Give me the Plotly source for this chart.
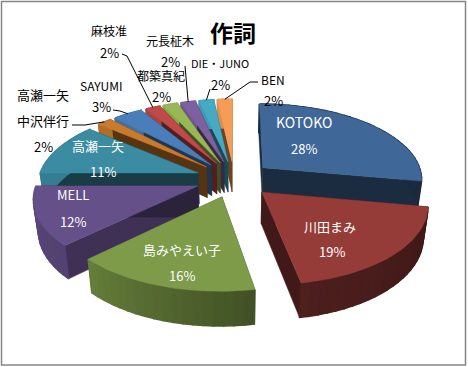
import math
import numpy as np
import plotly.graph_objects as go

TITLE = "作詞"
names = ["KOTOKO", "川田まみ", "島みやえい子", "MELL", "高瀬一矢", "中沢伴行", "SAYUMI",
         "麻枝准", "都築真紀", "元長柾木", "DIE・JUNO", "BEN"]
percent = [27.9, 19.2, 15.7, 12.2, 11.1, 1.74, 3.48, 1.74, 1.74, 1.74, 1.74, 1.74]
colors = ["#3F6797", "#953C39", "#7D9B48", "#65508A", "#3B8CA3", "#C97A2D",
          "#4A7EBB", "#BE4B48", "#98B855", "#7D60A0", "#46AAC5", "#F59D56"]

# projection of the exploded 3-D pie
CX, CY = 234.0, 179.0
RX, RY = 160.0, 75.6
PERSP = 7.1
EXPLODE = 0.24
DEPTH = 31.0
BOTTOM_SHRINK = 0.975
W, H = 468, 367


def project(x, y, bottom=False):
    s = PERSP / (PERSP - y)
    if bottom:
        return (CX + s * BOTTOM_SHRINK * RX * x,
                CY + s * BOTTOM_SHRINK * RY * y + s * DEPTH)
    return CX + s * RX * x, CY + s * RY * y


def rim(theta, ox, oy, bottom=False):
    return project(ox + math.sin(theta), oy - math.cos(theta), bottom)


def shade(color, f):
    r, g, b = (int(color[i:i + 2], 16) for i in (1, 3, 5))
    return f"rgb({int(r * f)},{int(g * f)},{int(b * f)})"


def poly(fig, pts, color, lw=0.5):
    fig.add_trace(go.Scatter(x=[p[0] for p in pts] + [pts[0][0]],
                             y=[p[1] for p in pts] + [pts[0][1]],
                             mode="lines", fill="toself", fillcolor=color,
                             line=dict(color=color, width=lw),
                             hoverinfo="skip", showlegend=False))


total = sum(percent)
slices = []
start = 0.0
for name, v, c in zip(names, percent, colors):
    span = 2 * math.pi * v / total
    mid = start + span / 2
    slices.append(dict(name=name, a=start, b=start + span, mid=mid, color=c,
                       ox=EXPLODE * math.sin(mid), oy=-EXPLODE * math.cos(mid)))
    start += span

fig = go.Figure()
for sl in sorted(slices, key=lambda d: d["oy"]):
    a, b, ox, oy, c = sl["a"], sl["b"], sl["ox"], sl["oy"], sl["color"]
    # radial walls
    for edge in (a, b):
        deg = math.degrees(edge) % 360
        f = 0.62 if 200 < deg < 260 else 0.43
        poly(fig, [project(ox, oy), rim(edge, ox, oy), rim(edge, ox, oy, True),
                   project(ox, oy, True)], shade(c, f))
    # outer wall, shaded along the arc
    n = max(3, int(math.degrees(b - a) / 3))
    ts = np.linspace(a, b, n + 1)
    for t0, t1 in zip(ts[:-1], ts[1:]):
        deg = math.degrees((t0 + t1) / 2)
        f = float(np.interp(deg, [100, 169, 227, 270], [0.42, 0.52, 0.82, 0.9]))
        poly(fig, [rim(t0, ox, oy), rim(t1, ox, oy), rim(t1, ox, oy, True),
                   rim(t0, ox, oy, True)], shade(c, f), lw=1.5)
    # top face
    arc = np.linspace(a, b, n * 2 + 1)
    poly(fig, [project(ox, oy)] + [rim(t, ox, oy) for t in arc], c)

# leader lines: label-side knee points, ending on the middle of the slice's rim
leaders = {
    "中沢伴行": [(72, 125), (85, 125)],
    "SAYUMI": [(113, 110), (120, 111)],
    "麻枝准": [(122, 54), (127, 56)],
    "元長柾木": [(185, 66)],
    "DIE・JUNO": [(210, 89)],
    "BEN": [(258, 82), (250, 82)],
}
for sl in slices:
    if sl["name"] in leaders:
        pts = leaders[sl["name"]] + [rim(sl["mid"], sl["ox"], sl["oy"])]
        fig.add_trace(go.Scatter(x=[p[0] for p in pts], y=[p[1] for p in pts], mode="lines",
                                 line=dict(color="#000000", width=1),
                                 hoverinfo="skip", showlegend=False))

# label anchor: name position, percent position, colour, name size
label_pos = {
    "KOTOKO": (304, 122, 304, 148, "white", 14),
    "川田まみ": (330, 226, 332, 251, "white", 13),
    "島みやえい子": (182, 249, 182, 275, "white", 13),
    "MELL": (73, 194, 73, 221, "white", 13),
    "高瀬一矢": (98, 145, 103, 171, "white", 13),
    "中沢伴行": (43, 120, 43, 146, "black", 13),
    "SAYUMI": (101, 85, 101, 106, "black", 12),
    "麻枝准": (109, 30, 109, 52, "black", 12),
    "都築真紀": (161, 75, 161, 96, "black", 12),
    "元長柾木": (170, 40, 170, 61, "black", 12),
    "DIE・JUNO": (220, 63, 220, 84, "black", 11),
    "BEN": (273, 79, 273, 100, "black", 12),
}
FONT = "Noto Sans CJK JP"
annos = []
for name, v in zip(names, percent):
    nx, ny, px, py, col, sz = label_pos[name]
    for txt, x, y, fs in ((name, nx, ny, sz), (f"{round(v)}%", px, py, 13)):
        annos.append(dict(x=x, y=y, xref="x", yref="y", text=txt, showarrow=False,
                          font=dict(family=FONT, size=fs, color=col),
                          xanchor="center", yanchor="middle"))
annos.append(dict(x=43, y=94, xref="x", yref="y", text="高瀬一矢", showarrow=False,
                  font=dict(family=FONT, size=13, color="black"),
                  xanchor="center", yanchor="middle"))
annos.append(dict(x=233, y=32, xref="x", yref="y", text=f"<b>{TITLE}</b>", showarrow=False,
                  font=dict(family=FONT, size=23, color="black"),
                  xanchor="center", yanchor="middle"))

fig.update_layout(
    width=W, height=H, margin=dict(l=0, r=0, t=0, b=0),
    paper_bgcolor="white", plot_bgcolor="white", showlegend=False,
    xaxis=dict(range=[0, W], visible=False, fixedrange=True),
    yaxis=dict(range=[H, 0], visible=False, fixedrange=True),
    annotations=annos,
    shapes=[dict(type="rect", xref="x", yref="y", x0=1.5, y0=1.5, x1=465.5, y1=365,
                 line=dict(color="#868686", width=1.5))],
)
fig.write_html("out.html", config=dict(displayModeBar=False),
               post_script="document.body.style.margin='0';document.documentElement.style.overflow='hidden';")
